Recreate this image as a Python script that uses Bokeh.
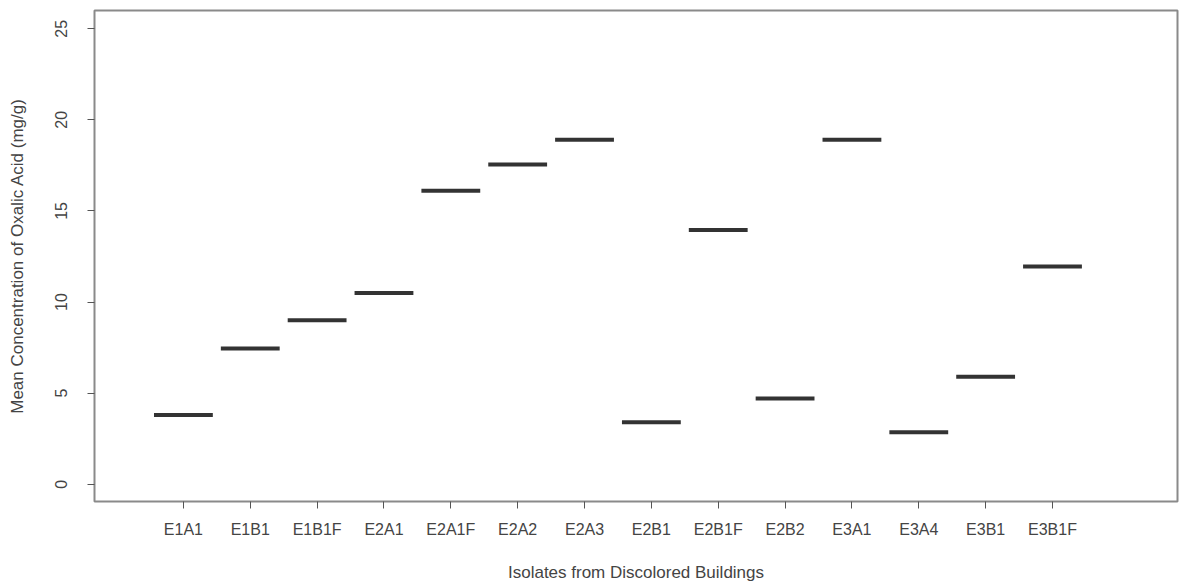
from bokeh.plotting import figure
from bokeh.models import Range1d, FixedTicker, ColumnDataSource
from bokeh.embed import file_html
from bokeh.resources import INLINE

categories = ["E1A1", "E1B1", "E1B1F", "E2A1", "E2A1F", "E2A2", "E2A3",
              "E2B1", "E2B1F", "E2B2", "E3A1", "E3A4", "E3B1", "E3B1F"]
means = [3.8, 7.45, 9.0, 10.5, 16.1, 17.55, 18.9, 3.4, 13.95, 4.7, 18.9, 2.85, 5.9, 11.95]
y_ticks = [0, 5, 10, 15, 20, 25]

positions = list(range(1, len(categories) + 1))
half = 0.44
src = ColumnDataSource(dict(
    x0=[p - half for p in positions],
    x1=[p + half for p in positions],
    y=means,
))

FONT = "Liberation Sans"
TXT = "#444444"

p = figure(width=1180, height=584, output_backend="svg", toolbar_location=None,
           x_range=Range1d(-0.33, 15.87), y_range=Range1d(-0.95, 26.0),
           min_border_left=94, min_border_top=10, min_border_bottom=83, min_border_right=3)

p.segment(x0="x0", y0="y", x1="x1", y1="y", source=src,
          line_color="#333333", line_width=4)

p.grid.visible = False
p.outline_line_color = "#8a8a8a"
p.outline_line_width = 2

for ax in (p.xaxis[0], p.yaxis[0]):
    ax.axis_line_color = None
    ax.major_tick_line_color = "#555555"
    ax.major_tick_in = 0
    ax.major_tick_out = 7
    ax.minor_tick_line_color = None
    ax.major_label_text_font = FONT
    ax.major_label_text_font_size = "16px"
    ax.major_label_text_color = TXT
    ax.axis_label_text_font = FONT
    ax.axis_label_text_font_size = "17px"
    ax.axis_label_text_color = TXT
    ax.axis_label_text_font_style = "normal"

p.xaxis.ticker = FixedTicker(ticks=positions)
p.xaxis.major_label_overrides = {pos: c for pos, c in zip(positions, categories)}
p.xaxis.major_label_standoff = 12
p.xaxis.axis_label = "Isolates from Discolored Buildings"
p.xaxis.axis_label_standoff = 22

p.yaxis.ticker = FixedTicker(ticks=y_ticks)
p.yaxis.major_label_orientation = "vertical"
p.yaxis.major_label_standoff = 20
p.yaxis.axis_label = "Mean Concentration of Oxalic Acid (mg/g)"
p.yaxis.axis_label_standoff = 26

open("out.html", "w").write(file_html(p, INLINE))
